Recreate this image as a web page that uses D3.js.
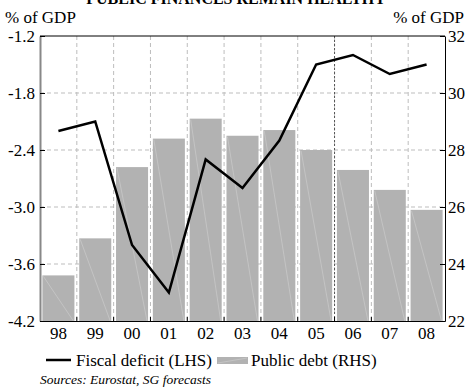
<!DOCTYPE html>
<html>
  <head>
    <meta charset="utf-8" />
    <title>Public finances</title>
    <script src="https://d3js.org/d3.v7.min.js"></script>
    <style>
        body { margin: 0; background: #fff; }
        svg text { font-family: "Liberation Serif", "Times New Roman", Times, "DejaVu Serif", serif; fill: #000; }
    </style>
  </head>
  <body>
    <svg id="chart"></svg>

    <script>
        var years = ["98", "99", "00", "01", "02", "03", "04", "05", "06", "07", "08"];
        var fiscalDeficit = [-2.2, -2.1, -3.4, -3.9, -2.5, -2.8, -2.3, -1.5, -1.4, -1.6, -1.5]; // LHS
        var publicDebt = [23.6, 24.9, 27.4, 28.4, 29.1, 28.5, 28.7, 28.0, 27.3, 26.6, 25.9]; // RHS
        var leftTicks = [-4.2, -3.6, -3.0, -2.4, -1.8, -1.2];
        var rightTicks = [22, 24, 26, 28, 30, 32];
        var forecastFrom = "06";

        var width = 469, height = 392;
        var margin = {top: 36, right: 24, bottom: 71, left: 40};
        var plotL = margin.left, plotR = width - margin.right;
        var plotT = margin.top, plotB = height - margin.bottom;
        var serif = "'Liberation Serif', 'Times New Roman', Times, serif";

        var svg = d3.select("#chart").attr("width", width).attr("height", height);

        var x = d3.scaleBand().domain(years).range([plotL, plotR])
            .paddingInner(0.13).paddingOuter(0.065);
        var step = x.step();
        var yL = d3.scaleLinear().domain([-4.2, -1.2]).range([plotB, plotT]);
        var yR = d3.scaleLinear().domain([22, 32]).range([plotB, plotT]);

        // boundaries between categories
        function edge(d) { return x(d) - (step - x.bandwidth()) / 2; }

        // title (cut off at the top, as in the source)
        svg.append("text").attr("x", 236).attr("y", 3.5).attr("text-anchor", "middle")
            .style("font-size", "16px").style("font-weight", "bold")
            .text("PUBLIC FINANCES REMAIN HEALTHY");

        svg.append("text").attr("x", 5).attr("y", 23).style("font-size", "17px").text("% of GDP");
        svg.append("text").attr("x", 464).attr("y", 23).attr("text-anchor", "end")
            .style("font-size", "17px").text("% of GDP");

        // grid
        var grid = svg.append("g");
        grid.selectAll(".hgrid").data(leftTicks.slice(1, -1)).enter().append("line")
            .attr("x1", plotL).attr("x2", plotR)
            .attr("y1", function(d) { return yL(d); }).attr("y2", function(d) { return yL(d); })
            .attr("stroke", "#bdbdbd").attr("stroke-dasharray", "4,3");
        grid.selectAll(".vgrid").data(years.slice(1)).enter().append("line")
            .attr("x1", edge).attr("x2", edge)
            .attr("y1", plotT).attr("y2", plotB)
            .attr("stroke", "#bdbdbd").attr("stroke-dasharray", "4,3");

        // bars
        var bars = svg.append("g");
        bars.selectAll("rect").data(publicDebt).enter().append("rect")
            .attr("x", function(d, i) { return x(years[i]); })
            .attr("width", x.bandwidth())
            .attr("y", function(d) { return yR(d); })
            .attr("height", function(d) { return yR(22) - yR(d); })
            .attr("fill", "#b2b2b2");
        bars.selectAll("line").data(publicDebt).enter().append("line")
            .attr("x1", function(d, i) { return x(years[i]) + 1; })
            .attr("y1", function(d) { return yR(d) + 1; })
            .attr("x2", function(d, i) { return x(years[i]) + x.bandwidth() - 1; })
            .attr("y2", plotB)
            .attr("stroke", "#c8c8c8").attr("stroke-width", 0.8);

        // forecast separator
        svg.append("line").attr("x1", edge(forecastFrom)).attr("x2", edge(forecastFrom))
            .attr("y1", plotT).attr("y2", plotB)
            .attr("stroke", "#555").attr("stroke-dasharray", "2,2");

        // line
        var line = d3.line()
            .x(function(d, i) { return x(years[i]) + x.bandwidth() / 2; })
            .y(function(d) { return yL(d); });
        svg.append("path").datum(fiscalDeficit).attr("d", line)
            .attr("fill", "none").attr("stroke", "#000").attr("stroke-width", 2.5);

        // frame
        svg.append("line").attr("x1", plotL).attr("x2", plotR).attr("y1", plotT).attr("y2", plotT)
            .attr("stroke", "#000");

        var yAxisL = svg.append("g").attr("transform", "translate(" + plotL + ",0)")
            .call(d3.axisLeft(yL).tickValues(leftTicks).tickSizeInner(-5).tickSizeOuter(0)
                .tickPadding(5).tickFormat(function(d) { return d.toFixed(1); }));
        yAxisL.select(".domain").attr("stroke", "#888").attr("stroke-width", 2);

        var yAxisR = svg.append("g").attr("transform", "translate(" + plotR + ",0)")
            .call(d3.axisRight(yR).tickValues(rightTicks).tickSizeInner(-5).tickSizeOuter(0)
                .tickPadding(3));
        yAxisR.select(".domain").attr("stroke", "#000");

        var xAxis = svg.append("g").attr("transform", "translate(0," + plotB + ")")
            .call(d3.axisBottom(x).tickSize(0).tickPadding(6));
        xAxis.select(".domain").attr("stroke", "#000");
        xAxis.selectAll(".xb").data(years.slice(1)).enter().append("line")
            .attr("x1", edge).attr("x2", edge).attr("y1", 0).attr("y2", -4)
            .attr("stroke", "#000");

        svg.selectAll("g").attr("font-family", serif);
        svg.selectAll(".tick text").style("font-size", "17px").style("font-family", serif);

        // legend
        var legend = svg.append("g");
        legend.append("line").attr("x1", 46).attr("x2", 71).attr("y1", 360).attr("y2", 360)
            .attr("stroke", "#000").attr("stroke-width", 2.5);
        legend.append("text").attr("x", 76).attr("y", 366).style("font-size", "17px")
            .text("Fiscal deficit (LHS)");
        legend.append("rect").attr("x", 217).attr("y", 357).attr("width", 31).attr("height", 7)
            .attr("fill", "#b2b2b2");
        legend.append("line").attr("x1", 218).attr("x2", 247).attr("y1", 363).attr("y2", 358)
            .attr("stroke", "#c8c8c8").attr("stroke-width", 0.8);
        legend.append("text").attr("x", 251).attr("y", 366).style("font-size", "17px")
            .text("Public debt (RHS)");

        svg.append("text").attr("x", 40).attr("y", 384)
            .style("font-size", "13.5px").style("font-style", "italic")
            .text("Sources: Eurostat, SG forecasts");
    </script>
  </body>
</html>
